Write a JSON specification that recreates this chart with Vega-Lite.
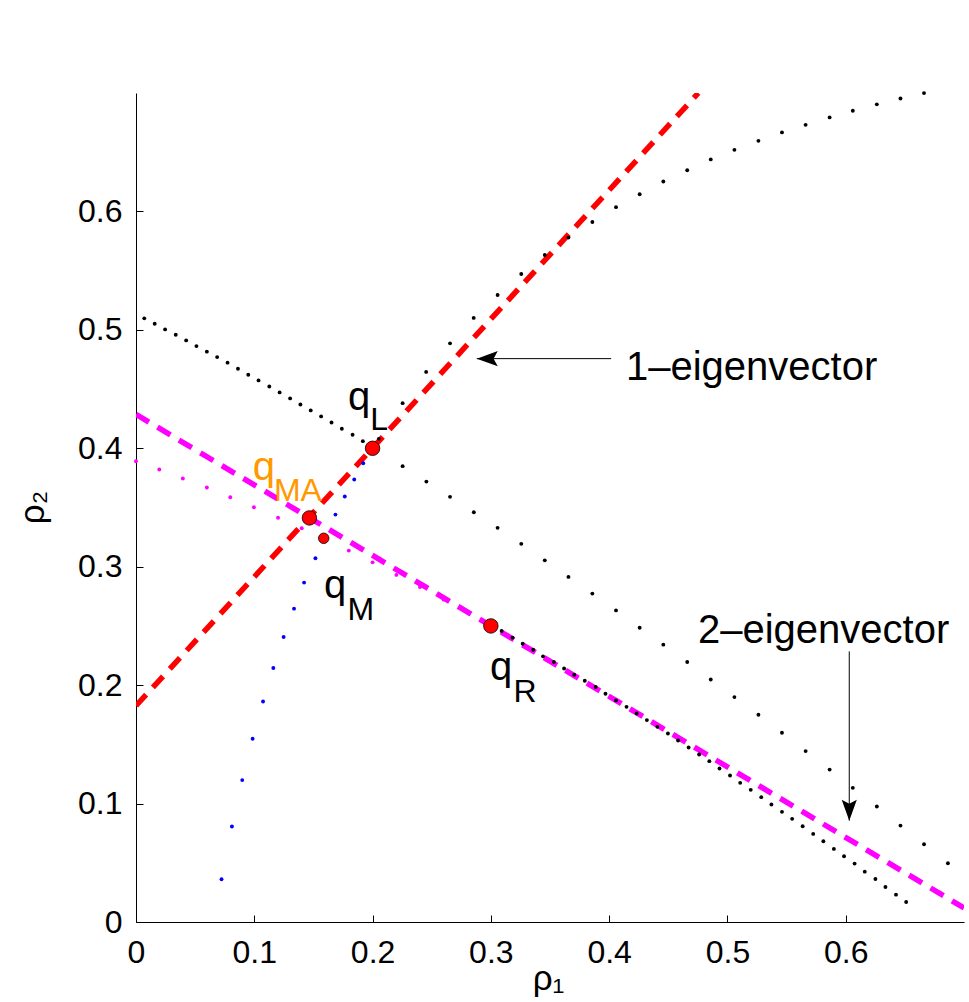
{
  "$schema": "https://vega.github.io/schema/vega-lite/v6.json",
  "width": 828,
  "height": 829,
  "autosize": {"type": "none"},
  "padding": {"left": 136, "top": 93, "right": 5, "bottom": 80},
  "background": "white",
  "config": {
    "view": {"stroke": null},
    "font": "Liberation Sans",
    "axis": {
      "grid": false,
      "domainColor": "#000000",
      "domainWidth": 1,
      "tickColor": "#000000",
      "tickWidth": 1,
      "tickSize": -7,
      "labelFont": "Liberation Sans",
      "labelFontSize": 32,
      "labelColor": "#000000",
      "labelFlush": false,
      "labelOverlap": false,
      "labelBound": false,
      "titleFont": "Liberation Sans",
      "titleFontSize": 35,
      "titleFontWeight": "normal",
      "titleColor": "#000000"
    }
  },
  "datasets": {
    "lines": [
      {"line": "1-eigenvector", "x": 0, "y": 0.1826},
      {"line": "1-eigenvector", "x": 0.4754, "y": 0.7},
      {"line": "2-eigenvector", "x": 0, "y": 0.4286},
      {"line": "2-eigenvector", "x": 0.7, "y": 0.0119}
    ],
    "curves": [
      {"curve": "qL-left", "x": 0.0070, "y": 0.5097},
      {"curve": "qL-left", "x": 0.0158, "y": 0.5052},
      {"curve": "qL-left", "x": 0.0246, "y": 0.5004},
      {"curve": "qL-left", "x": 0.0336, "y": 0.4959},
      {"curve": "qL-left", "x": 0.0424, "y": 0.4911},
      {"curve": "qL-left", "x": 0.0511, "y": 0.4863},
      {"curve": "qL-left", "x": 0.0599, "y": 0.4816},
      {"curve": "qL-left", "x": 0.0686, "y": 0.4770},
      {"curve": "qL-left", "x": 0.0774, "y": 0.4723},
      {"curve": "qL-left", "x": 0.0862, "y": 0.4672},
      {"curve": "qL-left", "x": 0.0949, "y": 0.4621},
      {"curve": "qL-left", "x": 0.1036, "y": 0.4573},
      {"curve": "qL-left", "x": 0.1127, "y": 0.4522},
      {"curve": "qL-left", "x": 0.1214, "y": 0.4472},
      {"curve": "qL-left", "x": 0.1303, "y": 0.4421},
      {"curve": "qL-left", "x": 0.1390, "y": 0.4370},
      {"curve": "qL-left", "x": 0.1477, "y": 0.4320},
      {"curve": "qL-left", "x": 0.1565, "y": 0.4269},
      {"curve": "qL-left", "x": 0.1653, "y": 0.4218},
      {"curve": "qL-left", "x": 0.1740, "y": 0.4165},
      {"curve": "qL-left", "x": 0.1831, "y": 0.4114},
      {"curve": "qL-left", "x": 0.1918, "y": 0.4060},
      {"curve": "qL-right", "x": 0.2254, "y": 0.3849},
      {"curve": "qL-right", "x": 0.2455, "y": 0.3719},
      {"curve": "qL-right", "x": 0.2655, "y": 0.3590},
      {"curve": "qL-right", "x": 0.2856, "y": 0.3460},
      {"curve": "qL-right", "x": 0.3057, "y": 0.3328},
      {"curve": "qL-right", "x": 0.3257, "y": 0.3193},
      {"curve": "qL-right", "x": 0.3456, "y": 0.3054},
      {"curve": "qL-right", "x": 0.3656, "y": 0.2914},
      {"curve": "qL-right", "x": 0.3858, "y": 0.2773},
      {"curve": "qL-right", "x": 0.4058, "y": 0.2631},
      {"curve": "qL-right", "x": 0.4258, "y": 0.2485},
      {"curve": "qL-right", "x": 0.4458, "y": 0.2342},
      {"curve": "qL-right", "x": 0.4660, "y": 0.2195},
      {"curve": "qL-right", "x": 0.4859, "y": 0.2048},
      {"curve": "qL-right", "x": 0.5059, "y": 0.1899},
      {"curve": "qL-right", "x": 0.5262, "y": 0.1750},
      {"curve": "qL-right", "x": 0.5461, "y": 0.1598},
      {"curve": "qL-right", "x": 0.5661, "y": 0.1443},
      {"curve": "qL-right", "x": 0.5864, "y": 0.1287},
      {"curve": "qL-right", "x": 0.6060, "y": 0.1133},
      {"curve": "qL-right", "x": 0.6263, "y": 0.0975},
      {"curve": "qL-right", "x": 0.6463, "y": 0.0814},
      {"curve": "qL-right", "x": 0.6662, "y": 0.0657},
      {"curve": "qL-right", "x": 0.6864, "y": 0.0496},
      {"curve": "qL-up", "x": 0.2053, "y": 0.4080},
      {"curve": "qL-up", "x": 0.2254, "y": 0.4381},
      {"curve": "qL-up", "x": 0.2453, "y": 0.4645},
      {"curve": "qL-up", "x": 0.2655, "y": 0.4886},
      {"curve": "qL-up", "x": 0.2855, "y": 0.5101},
      {"curve": "qL-up", "x": 0.3057, "y": 0.5294},
      {"curve": "qL-up", "x": 0.3257, "y": 0.5472},
      {"curve": "qL-up", "x": 0.3456, "y": 0.5632},
      {"curve": "qL-up", "x": 0.3656, "y": 0.5779},
      {"curve": "qL-up", "x": 0.3858, "y": 0.5911},
      {"curve": "qL-up", "x": 0.4058, "y": 0.6036},
      {"curve": "qL-up", "x": 0.4258, "y": 0.6145},
      {"curve": "qL-up", "x": 0.4458, "y": 0.6253},
      {"curve": "qL-up", "x": 0.4660, "y": 0.6348},
      {"curve": "qL-up", "x": 0.4859, "y": 0.6439},
      {"curve": "qL-up", "x": 0.5059, "y": 0.6520},
      {"curve": "qL-up", "x": 0.5262, "y": 0.6596},
      {"curve": "qL-up", "x": 0.5461, "y": 0.6667},
      {"curve": "qL-up", "x": 0.5661, "y": 0.6731},
      {"curve": "qL-up", "x": 0.5864, "y": 0.6794},
      {"curve": "qL-up", "x": 0.6060, "y": 0.6850},
      {"curve": "qL-up", "x": 0.6263, "y": 0.6904},
      {"curve": "qL-up", "x": 0.6463, "y": 0.6954},
      {"curve": "qL-up", "x": 0.6662, "y": 0.6999},
      {"curve": "qR-right", "x": 0.3091, "y": 0.2457},
      {"curve": "qR-right", "x": 0.3183, "y": 0.2401},
      {"curve": "qR-right", "x": 0.3269, "y": 0.2350},
      {"curve": "qR-right", "x": 0.3358, "y": 0.2299},
      {"curve": "qR-right", "x": 0.3441, "y": 0.2243},
      {"curve": "qR-right", "x": 0.3533, "y": 0.2195},
      {"curve": "qR-right", "x": 0.3619, "y": 0.2141},
      {"curve": "qR-right", "x": 0.3705, "y": 0.2088},
      {"curve": "qR-right", "x": 0.3794, "y": 0.2037},
      {"curve": "qR-right", "x": 0.3886, "y": 0.1984},
      {"curve": "qR-right", "x": 0.3969, "y": 0.1927},
      {"curve": "qR-right", "x": 0.4058, "y": 0.1871},
      {"curve": "qR-right", "x": 0.4147, "y": 0.1817},
      {"curve": "qR-right", "x": 0.4233, "y": 0.1761},
      {"curve": "qR-right", "x": 0.4319, "y": 0.1705},
      {"curve": "qR-right", "x": 0.4408, "y": 0.1648},
      {"curve": "qR-right", "x": 0.4497, "y": 0.1592},
      {"curve": "qR-right", "x": 0.4583, "y": 0.1533},
      {"curve": "qR-right", "x": 0.4672, "y": 0.1473},
      {"curve": "qR-right", "x": 0.4761, "y": 0.1414},
      {"curve": "qR-right", "x": 0.4847, "y": 0.1358},
      {"curve": "qR-right", "x": 0.4933, "y": 0.1296},
      {"curve": "qR-right", "x": 0.5022, "y": 0.1237},
      {"curve": "qR-right", "x": 0.5108, "y": 0.1175},
      {"curve": "qR-right", "x": 0.5197, "y": 0.1116},
      {"curve": "qR-right", "x": 0.5286, "y": 0.1054},
      {"curve": "qR-right", "x": 0.5372, "y": 0.0992},
      {"curve": "qR-right", "x": 0.5461, "y": 0.0930},
      {"curve": "qR-right", "x": 0.5547, "y": 0.0871},
      {"curve": "qR-right", "x": 0.5636, "y": 0.0809},
      {"curve": "qR-right", "x": 0.5725, "y": 0.0744},
      {"curve": "qR-right", "x": 0.5811, "y": 0.0682},
      {"curve": "qR-right", "x": 0.5900, "y": 0.0617},
      {"curve": "qR-right", "x": 0.5986, "y": 0.0555},
      {"curve": "qR-right", "x": 0.6075, "y": 0.0493},
      {"curve": "qR-right", "x": 0.6161, "y": 0.0425},
      {"curve": "qR-right", "x": 0.6251, "y": 0.0363},
      {"curve": "qR-right", "x": 0.6336, "y": 0.0296},
      {"curve": "qR-right", "x": 0.6425, "y": 0.0231},
      {"curve": "qR-right", "x": 0.6511, "y": 0.0169},
      {"curve": "integral-1", "x": 0.0723, "y": 0.0361},
      {"curve": "integral-1", "x": 0.0811, "y": 0.0806},
      {"curve": "integral-1", "x": 0.0898, "y": 0.1198},
      {"curve": "integral-1", "x": 0.0986, "y": 0.1547},
      {"curve": "integral-1", "x": 0.1074, "y": 0.1862},
      {"curve": "integral-1", "x": 0.1161, "y": 0.2145},
      {"curve": "integral-1", "x": 0.1248, "y": 0.2407},
      {"curve": "integral-1", "x": 0.1336, "y": 0.2646},
      {"curve": "integral-1", "x": 0.1421, "y": 0.2866},
      {"curve": "integral-1", "x": 0.1517, "y": 0.3071},
      {"curve": "integral-1", "x": 0.1602, "y": 0.3254},
      {"curve": "integral-1", "x": 0.1686, "y": 0.3440},
      {"curve": "integral-1", "x": 0.1765, "y": 0.3593},
      {"curve": "integral-1", "x": 0.1845, "y": 0.3736},
      {"curve": "integral-1", "x": 0.1921, "y": 0.3874},
      {"curve": "integral-2", "x": 0.0000, "y": 0.3891},
      {"curve": "integral-2", "x": 0.0197, "y": 0.3821},
      {"curve": "integral-2", "x": 0.0396, "y": 0.3745},
      {"curve": "integral-2", "x": 0.0599, "y": 0.3669},
      {"curve": "integral-2", "x": 0.0797, "y": 0.3587},
      {"curve": "integral-2", "x": 0.0997, "y": 0.3502},
      {"curve": "integral-2", "x": 0.1201, "y": 0.3413},
      {"curve": "integral-2", "x": 0.1401, "y": 0.3325},
      {"curve": "integral-2", "x": 0.1602, "y": 0.3229},
      {"curve": "integral-2", "x": 0.1799, "y": 0.3136},
      {"curve": "integral-2", "x": 0.2000, "y": 0.3037},
      {"curve": "integral-2", "x": 0.2201, "y": 0.2931},
      {"curve": "integral-2", "x": 0.2401, "y": 0.2829},
      {"curve": "integral-2", "x": 0.2602, "y": 0.2722},
      {"curve": "integral-2", "x": 0.2801, "y": 0.2616}
    ],
    "arrows": [
      {"arrow": "1-eigenvector", "dir": "left", "x": 0.2881, "y": 0.4757, "xTail": 0.4017, "yTail": 0.4757},
      {"arrow": "2-eigenvector", "dir": "down", "x": 0.603, "y": 0.0856, "xTail": 0.603, "yTail": 0.2285}
    ],
    "states": [
      {"state": "qL", "x": 0.2, "y": 0.4},
      {"state": "qMA", "x": 0.1466, "y": 0.3412},
      {"state": "qM", "x": 0.1587, "y": 0.324},
      {"state": "qR", "x": 0.3, "y": 0.25}
    ],
    "labels": [
      {"label": "qL", "part": "q", "text": "q", "x": 0.1792, "y": 0.4324},
      {"label": "qL", "part": "sub", "text": "L", "x": 0.1980, "y": 0.4155},
      {"label": "qMA", "part": "q", "text": "q", "x": 0.0987, "y": 0.3732},
      {"label": "qMA", "part": "sub", "text": "MA", "x": 0.1166, "y": 0.3553},
      {"label": "qM", "part": "q", "text": "q", "x": 0.1589, "y": 0.2735},
      {"label": "qM", "part": "sub", "text": "M", "x": 0.1788, "y": 0.2553},
      {"label": "qR", "part": "q", "text": "q", "x": 0.2993, "y": 0.2041},
      {"label": "qR", "part": "sub", "text": "R", "x": 0.3192, "y": 0.1854},
      {"label": "1-eigenvector", "part": "note", "text": "1–eigenvector", "x": 0.4142, "y": 0.4573},
      {"label": "2-eigenvector", "part": "note", "text": "2–eigenvector", "x": 0.4751, "y": 0.2358}
    ]
  },
  "encoding": {
    "x": {
      "field": "x",
      "type": "quantitative",
      "scale": {"domain": [0, 0.7], "nice": false, "zero": false},
      "axis": {
        "values": [0, 0.1, 0.2, 0.3, 0.4, 0.5, 0.6],
        "format": ".1~f",
        "labelPadding": 22,
        "title": "ρ₁",
        "titleX": 412,
        "titleY": 67,
        "titleBaseline": "alphabetic",
        "titleAlign": "center"
      }
    },
    "y": {
      "field": "y",
      "type": "quantitative",
      "scale": {"domain": [0, 0.7], "nice": false, "zero": false},
      "axis": {
        "values": [0, 0.1, 0.2, 0.3, 0.4, 0.5, 0.6],
        "format": ".1~f",
        "labelPadding": 21,
        "title": "ρ₂",
        "titleX": -93,
        "titleY": 414,
        "titleBaseline": "alphabetic",
        "titleAlign": "center"
      }
    }
  },
  "layer": [
    {
      "data": {"name": "lines"},
      "mark": {"type": "line", "strokeWidth": 5.5, "strokeDash": [15, 10], "strokeCap": "butt", "clip": true},
      "encoding": {
        "color": {
          "field": "line",
          "type": "nominal",
          "scale": {"domain": ["1-eigenvector", "2-eigenvector"], "range": ["#FF0000", "#FF00FF"]},
          "legend": null
        }
      }
    },
    {
      "data": {"name": "curves"},
      "mark": {"type": "point", "filled": true, "size": 15, "opacity": 1},
      "encoding": {
        "color": {
          "field": "curve",
          "type": "nominal",
          "scale": {
            "domain": ["qL-left", "qL-right", "qL-up", "qR-right", "integral-1", "integral-2"],
            "range": ["#000000", "#000000", "#000000", "#000000", "#0000FF", "#FF00FF"]
          },
          "legend": null
        }
      }
    },
    {
      "data": {"name": "arrows"},
      "mark": {"type": "rule", "color": "#000000", "strokeWidth": 1},
      "encoding": {
        "x2": {"field": "xTail"},
        "y2": {"field": "yTail"}
      }
    },
    {
      "data": {"name": "arrows"},
      "mark": {"type": "point", "filled": true, "color": "#000000", "size": 1764, "opacity": 1},
      "encoding": {
        "shape": {
          "field": "dir",
          "type": "nominal",
          "scale": {
            "domain": ["left", "down"],
            "range": ["M0,0L1,-0.36L0.8,0L1,0.36Z", "M0,0L-0.36,-1L0,-0.8L0.36,-1Z"]
          },
          "legend": null
        }
      }
    },
    {
      "data": {"name": "states"},
      "mark": {"type": "point", "filled": true, "fill": "#FF0000", "stroke": "#000000", "strokeWidth": 0.8, "opacity": 1},
      "encoding": {
        "size": {
          "field": "state",
          "type": "nominal",
          "scale": {"type": "ordinal", "domain": ["qL", "qMA", "qM", "qR"], "range": [210, 210, 110, 210]},
          "legend": null
        }
      }
    },
    {
      "data": {"name": "labels"},
      "mark": {"type": "text", "align": "left", "baseline": "alphabetic", "font": "Liberation Sans"},
      "encoding": {
        "text": {"field": "text"},
        "size": {
          "field": "part",
          "type": "nominal",
          "scale": {"type": "ordinal", "domain": ["q", "sub", "note"], "range": [40, 32, 40]},
          "legend": null
        },
        "color": {
          "field": "label",
          "type": "nominal",
          "scale": {
            "domain": ["qL", "qMA", "qM", "qR", "1-eigenvector", "2-eigenvector"],
            "range": ["#000000", "#FF9900", "#000000", "#000000", "#000000", "#000000"]
          },
          "legend": null
        }
      }
    }
  ],
  "resolve": {"scale": {"color": "independent", "size": "independent"}}
}
